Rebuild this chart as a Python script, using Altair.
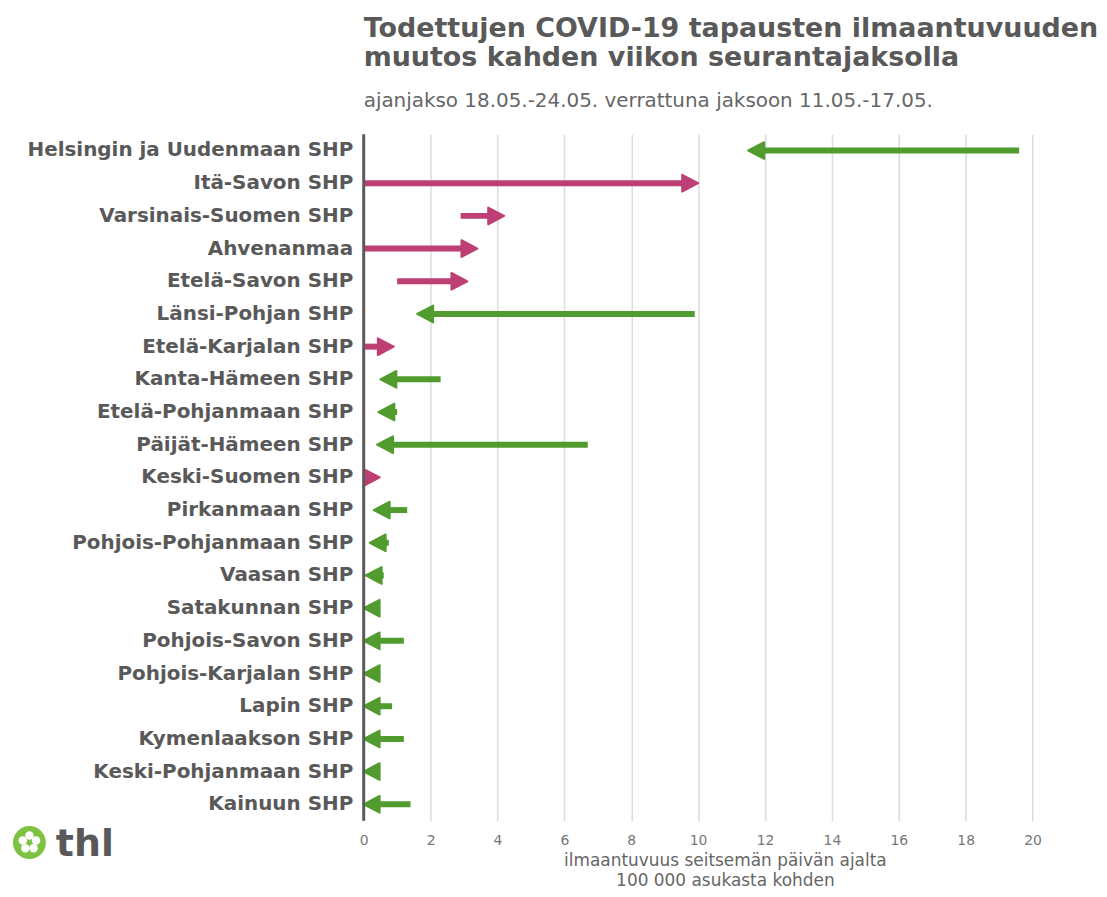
import math
import altair as alt
import pandas as pd

regions = [
    "Helsingin ja Uudenmaan SHP", "Itä-Savon SHP", "Varsinais-Suomen SHP", "Ahvenanmaa",
    "Etelä-Savon SHP", "Länsi-Pohjan SHP", "Etelä-Karjalan SHP", "Kanta-Hämeen SHP",
    "Etelä-Pohjanmaan SHP", "Päijät-Hämeen SHP", "Keski-Suomen SHP", "Pirkanmaan SHP",
    "Pohjois-Pohjanmaan SHP", "Vaasan SHP", "Satakunnan SHP", "Pohjois-Savon SHP",
    "Pohjois-Karjalan SHP", "Lapin SHP", "Kymenlaakson SHP", "Keski-Pohjanmaan SHP",
    "Kainuun SHP",
]
previous = [19.6, 0.0, 2.9, 0.0, 1.0, 9.9, 0.0, 2.3, 1.0, 6.7, 0.0, 1.3, 0.75, 0.6,
            0.4, 1.2, 0.4, 0.85, 1.2, 0.4, 1.4]
current = [11.5, 10.0, 4.2, 3.4, 3.1, 1.6, 0.9, 0.5, 0.44, 0.4, 0.48, 0.3, 0.18, 0.06,
           0.0, 0.0, 0.0, 0.0, 0.0, 0.0, 0.0]
x_ticks = [0, 2, 4, 6, 8, 10, 12, 14, 16, 18, 20]

PINK = "#be3f73"
GREEN = "#519b2f"
GRAY = "#595959"

df = pd.DataFrame({"alue": regions, "prev": previous, "curr": current})
df["dir"] = ["nousu" if c > p else "lasku" for p, c in zip(previous, current)]

FONT = "DejaVu Sans"
W, H = 725, 689

xscale = alt.Scale(domain=[0, 21.6], nice=False, zero=True)
yenc = alt.Y("alue:N", sort=regions, title=None,
             scale=alt.Scale(paddingInner=0, paddingOuter=0),
             axis=alt.Axis(labelFont=FONT, labelFontSize=20, labelFontWeight="bold",
                           labelColor=GRAY, ticks=False, domain=False, labelPadding=11,
                           grid=False, labelLimit=0))
xaxis = alt.Axis(values=x_ticks, labelFont=FONT, labelFontSize=14, labelColor="#777777",
                 ticks=False, domain=False, grid=True, gridColor="#dcdcdc", gridWidth=1.5,
                 labelPadding=13, title=["ilmaantuvuus seitsemän päivän ajalta", "100 000 asukasta kohden"],
                 titleFont=FONT, titleFontSize=17, titleFontWeight="normal", titleColor="#666666",
                 titlePadding=5, titleLineHeight=20, labelFlush=False)

base = alt.Chart(df)

shaft_up = base.transform_filter("datum.dir == 'nousu'").mark_rule(
    strokeWidth=6, strokeCap="butt", x2Offset=-8, color=PINK
).encode(x=alt.X("prev:Q", scale=xscale, axis=xaxis), x2="curr:Q", y=yenc)

shaft_down = base.transform_filter("datum.dir == 'lasku'").mark_rule(
    strokeWidth=6, strokeCap="butt", x2Offset=8, color=GREEN
).encode(x=alt.X("prev:Q", scale=xscale), x2="curr:Q", y=yenc)

head_up = base.transform_filter("datum.dir == 'nousu'").mark_point(
    shape="M-2,-1.05L0,0L-2,1.05Z", filled=True, size=256, opacity=1,
    fill=PINK, stroke=PINK, strokeWidth=2, strokeJoin="round"
).encode(x=alt.X("curr:Q", scale=xscale), y=yenc)

head_down = base.transform_filter("datum.dir == 'lasku'").mark_point(
    shape="M2,-1.05L0,0L2,1.05Z", filled=True, size=256, opacity=1,
    fill=GREEN, stroke=GREEN, strokeWidth=2, strokeJoin="round"
).encode(x=alt.X("curr:Q", scale=xscale), y=yenc)

zero_line = alt.Chart(pd.DataFrame({"z": [0]})).mark_rule(
    color="#5a5a5a", strokeWidth=3
).encode(x=alt.X("z:Q", scale=xscale))

# thl logo (decoration)
LX, LY = -335.5, 711
one = pd.DataFrame({"a": [0]})
logo_layers = [
    alt.Chart(one).mark_point(shape="circle", filled=True, size=1090,
                              color="#7dc242", opacity=1
                              ).encode(x=alt.value(LX), y=alt.value(LY))
]
for k in range(5):
    ang = math.radians(-90 + 72 * k)
    logo_layers.append(
        alt.Chart(one).mark_point(shape="circle", filled=True, size=72,
                                  color="white", opacity=1
                                  ).encode(x=alt.value(LX + 7 * math.cos(ang)),
                                           y=alt.value(LY + 7 * math.sin(ang)))
    )
logo_layers.append(
    alt.Chart(one).mark_point(shape="circle", filled=True, size=14,
                              color="#7dc242", opacity=1
                              ).encode(x=alt.value(LX), y=alt.value(LY))
)
logo_layers.append(
    alt.Chart(one).mark_text(text="thl", font=FONT, fontSize=38, fontWeight="bold",
                             color=GRAY, baseline="alphabetic", align="left"
                             ).encode(x=alt.value(-309), y=alt.value(724))
)

chart = alt.layer(
    shaft_up, shaft_down, head_up, head_down, zero_line, *logo_layers
).properties(
    width=W, height=H,
    padding={"left": 4, "top": 5, "right": 0, "bottom": 0},
    title=alt.TitleParams(
        text=["Todettujen COVID-19 tapausten ilmaantuvuuden", "muutos kahden viikon seurantajaksolla"],
        subtitle="ajanjakso 18.05.-24.05. verrattuna jaksoon 11.05.-17.05.",
        anchor="start", frame="group", font=FONT, fontSize=27, fontWeight="bold",
        color=GRAY, lineHeight=29, subtitleFont=FONT, subtitleFontSize=20,
        subtitleColor="#666666", subtitlePadding=19, offset=21,
    ),
).configure_view(stroke=None)

chart.save("out.html", embed_options={"renderer": "svg", "actions": False})
